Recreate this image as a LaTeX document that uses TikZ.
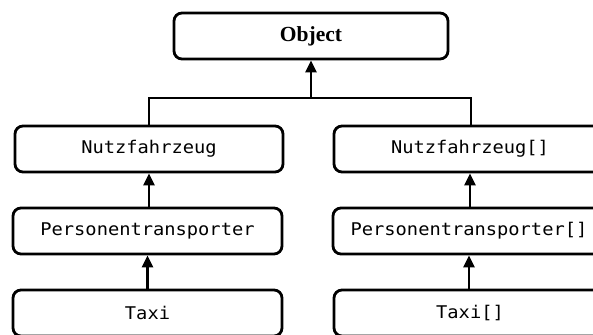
\documentclass[tikz,border=0pt]{standalone}
\usepackage{fontspec}
\setmainfont{Liberation Serif}
\newfontfamily\monofont[FakeStretch=1.07]{DejaVu Sans Mono}
\usetikzlibrary{arrows.meta}
\tikzset{
  box/.style={draw=black, line width=2.8pt, rounded corners=8pt, inner sep=0pt, fill=white},
  monotext/.style={font=\monofont\fontsize{17.5}{20}\selectfont},
  link/.style={line width=2.8pt},
  inherit/.style={line width=2.8pt, -{Triangle[width=11pt,length=12pt]}}
}
\begin{document}
\begin{tikzpicture}[x=1pt,y=-1pt]
\useasboundingbox (0,0) rectangle (593,334);
\clip (0,0) rectangle (593,334);
\fill[white] (0,0) rectangle (593,334);
\node[box, minimum width=274pt, minimum height=46pt, font=\bfseries\fontsize{21.5}{24}\selectfont] (obj) at (311,36) {Object};
\node[box, monotext, minimum width=268pt, minimum height=46pt] (nl) at (149,149) {Nutzfahrzeug};
\node[box, monotext, minimum width=269pt, minimum height=46pt] (pl) at (147.5,231) {Personentransporter};
\node[box, monotext, minimum width=269pt, minimum height=46pt] (tl) at (147.5,313) {Taxi};
\node[box, monotext, minimum width=272pt, minimum height=46pt] (nr) at (470,149) {Nutzfahrzeug[]};
\node[box, monotext, minimum width=272pt, minimum height=46pt] (pr) at (469,231) {Personentransporter[]};
\node[box, monotext, minimum width=272pt, minimum height=46pt] (tr) at (470,313) {Taxi[]};
\coordinate (j) at (311,98);
\coordinate (jl) at (149,98);
\coordinate (jr) at (471,98);
\draw[link] (nl.north -| jl) -- (jl) -- (jr) -- (nr.north -| jr);
\draw[inherit] (j) -- (obj.south);
\draw[inherit] (pl.north -| nl.south) -- (nl.south);
\draw[inherit] (tl.north -| pl.south) -- (pl.south);
\draw[inherit] (pr.north -| nr.south) -- (nr.south);
\draw[inherit] (tr.north -| pr.south) -- (pr.south);
\end{tikzpicture}
\end{document}
